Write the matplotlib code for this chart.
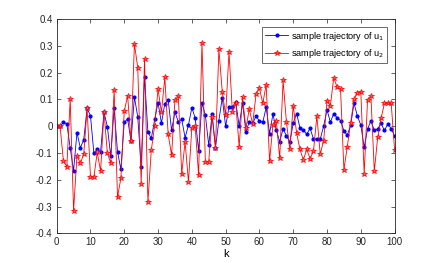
import matplotlib
matplotlib.use("Agg")
import matplotlib.pyplot as plt
import numpy as np

plt.rcParams['font.family'] = ['Liberation Sans', 'DejaVu Sans']

k = list(range(101))

u1 = [0.0, 0.0, 0.014, 0.009, -0.081, -0.166, -0.024, -0.081, -0.051, 0.066,
      0.039, -0.100, -0.087, -0.095, 0.052, -0.002, -0.112, 0.066, -0.095, -0.161,
      0.014, 0.027, -0.056, 0.109, 0.034, -0.154, 0.184, -0.022, -0.046, 0.025,
      0.088, 0.011, 0.084, 0.097, -0.015, 0.053, 0.016, 0.026, -0.043, 0.004,
      0.069, 0.030, -0.091, 0.085, 0.041, -0.071, 0.045, -0.080, 0.021, 0.106,
      -0.001, 0.072, 0.071, 0.091, 0.000, 0.087, -0.021, 0.016, 0.010, 0.038,
      0.019, 0.015, 0.070, -0.028, 0.045, -0.015, -0.058, -0.010, -0.036, -0.060,
      0.011, 0.047, -0.006, -0.015, -0.030, -0.008, -0.048, -0.048, -0.048, 0.000,
      0.061, 0.015, 0.047, 0.031, 0.021, -0.017, -0.034, 0.004, 0.085, 0.038,
      0.004, -0.079, -0.011, 0.020, -0.016, -0.010, 0.010, -0.016, 0.008, -0.009,
      -0.036]

u2 = [0.0, 0.0, -0.130, -0.152, 0.100, -0.316, -0.111, -0.139, -0.105, 0.066,
      -0.189, -0.190, -0.098, -0.168, 0.054, -0.101, -0.138, 0.135, -0.264, -0.195,
      0.056, 0.113, -0.057, 0.307, 0.218, -0.215, 0.252, -0.282, -0.090, 0.002,
      0.138, 0.051, 0.182, -0.031, -0.108, 0.097, 0.112, -0.178, -0.058, -0.208,
      -0.006, -0.001, -0.183, 0.311, -0.133, -0.133, 0.035, -0.080, 0.287, 0.129,
      0.041, 0.277, 0.053, 0.085, -0.077, 0.108, -0.008, 0.064, 0.008, 0.119,
      0.142, 0.085, 0.155, -0.130, 0.004, 0.019, -0.120, 0.171, 0.014, -0.087,
      0.077, -0.025, -0.087, -0.126, -0.087, -0.121, -0.093, 0.038, -0.105, -0.054,
      0.093, 0.077, 0.181, 0.145, 0.140, -0.162, -0.077, 0.013, 0.100, 0.125,
      0.128, -0.177, 0.097, 0.112, -0.168, -0.042, 0.029, 0.085, 0.085, 0.085,
      -0.088]

fig = plt.figure(figsize=(4.36, 2.62), dpi=100)
ax = fig.add_axes([0.130, 0.1095, 0.775, 0.818])

ax.plot(k, u1, color=(0, 0, 1), lw=0.6, marker='.', markersize=4,
        label='sample trajectory of u$_1$')
ax.plot(k, u2, color=(1, 0, 0), lw=0.6, marker='*', markersize=4,
        markeredgewidth=0.5, markerfacecolor=(1, 0.35, 0.35),
        label='sample trajectory of u$_2$')

ax.set_xlim(0, 100)
ax.set_ylim(-0.4, 0.4)
ax.set_xticks(np.arange(0, 101, 10))
yt = np.round(np.arange(-0.4, 0.41, 0.1), 1)
ax.set_yticks(yt)
ax.set_yticklabels(['0' if v == 0 else f'{v:g}' for v in yt])
ax.tick_params(direction='in', top=True, right=True, labelsize=7,
               length=3, width=0.5, colors='#262626', pad=3)
for s in ax.spines.values():
    s.set_linewidth(0.6)
    s.set_color('#262626')
ax.set_xlabel('k', fontsize=8, labelpad=1)

leg = ax.legend(loc='upper right', fontsize=6.6, frameon=True, fancybox=False,
                edgecolor='#262626', borderpad=0.3, labelspacing=0.5,
                handlelength=2.6, handletextpad=0.3, borderaxespad=0.0,
                bbox_to_anchor=(0.977, 0.963))
leg.get_frame().set_linewidth(0.6)

fig.savefig('out.png', dpi=100)
